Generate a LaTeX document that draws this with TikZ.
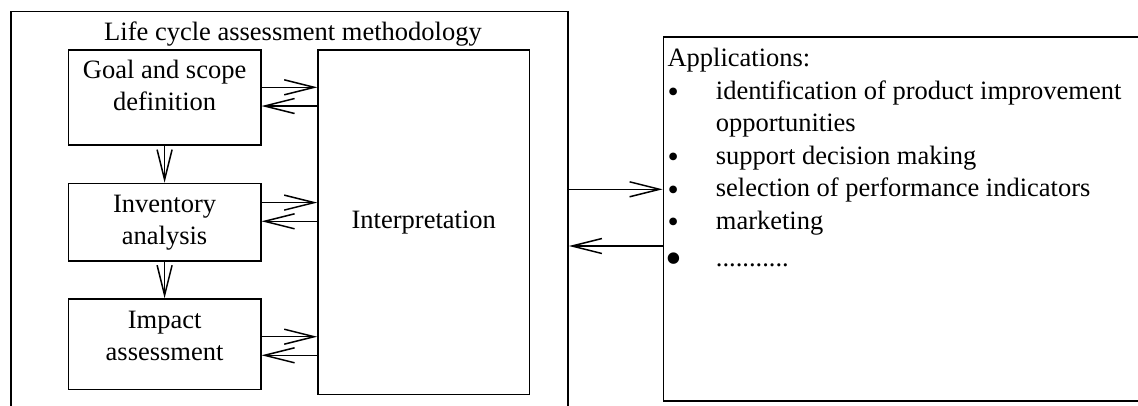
\documentclass[tikz,border=0pt]{standalone}
\usepackage{fontspec}
\setmainfont{Liberation Serif}
\usetikzlibrary{arrows.meta}
\begin{document}
\begin{tikzpicture}[x=1pt,y=-1pt,
  every node/.style={font=\fontsize{26.5}{32}\selectfont},
  lw/.style={line width=1.5pt},
  box/.style={draw, lw, rectangle, inner sep=0pt, anchor=north west},
  boxtext/.style={anchor=north, align=center, inner sep=0pt},
  arr/.style={lw, -{Straight Barb[length=30pt,width=15pt,line width=1.5pt]}},
  txt/.style={anchor=base west, inner sep=0pt},
  bul/.style={anchor=base, inner sep=0pt, font=\fontsize{32}{32}\selectfont}]
\useasboundingbox (0,0) rectangle (1138,405);
% outer frame (bottom lies below the picture)
\node[box, minimum width=557.3pt, minimum height=450pt] (outer) at (10,10.7) {};
\node[anchor=base, inner sep=0pt] (title) at (293,40.5) {Life cycle assessment methodology};
% phase boxes
\node[box, minimum width=192.3pt, minimum height=95.3pt] (goal) at (67.7,49) {};
\node[boxtext] (goaltxt) at ([yshift=-7.1pt]goal.north) {\strut Goal and scope\\definition};
\node[box, minimum width=192.3pt, minimum height=77.3pt] (inv) at (67.7,182.7) {};
\node[boxtext] (invtxt) at ([yshift=-7.1pt]inv.north) {\strut Inventory\\analysis};
\node[box, minimum width=192.3pt, minimum height=90.4pt] (imp) at (67.7,298.3) {};
\node[boxtext] (imptxt) at ([yshift=-7.1pt]imp.north) {\strut Impact\\assessment};
\node[box, minimum width=211.4pt, minimum height=344.7pt] (interp) at (317.3,49) {Interpretation};
% applications box (right side lies beyond the picture)
\node[box, minimum width=600pt, minimum height=364pt] (app) at (662.7,36) {};
\node[txt] (apptitle) at (667.3,66) {Applications:};
\node[bul] (b1) at (673.3,102.6) {•};
\node[txt] (t1) at (715.7,99) {identification of product improvement};
\node[txt] (t1b) at (715.7,131.5) {opportunities};
\node[bul] (b2) at (673.3,167.6) {•};
\node[txt] (t2) at (715.7,164) {support decision making};
\node[bul] (b3) at (673.3,200.1) {•};
\node[txt] (t3) at (715.7,196.5) {selection of performance indicators};
\node[bul] (b4) at (673.3,232.6) {•};
\node[txt] (t4) at (715.7,229) {marketing};
\node[bul, font=\fontsize{48}{48}\selectfont] (b5) at (674.3,274.8) {•};
\node[txt] (t5) at (715.7,266) {...........};
% arrows between phases and interpretation
\coordinate (g1) at ([yshift=-38.3pt]goal.north east);
\coordinate (g2) at ([yshift=-57pt]goal.north east);
\coordinate (i1) at ([yshift=-19.9pt]inv.north east);
\coordinate (i2) at ([yshift=-38.6pt]inv.north east);
\coordinate (m1) at ([yshift=-38.4pt]imp.north east);
\coordinate (m2) at ([yshift=-57pt]imp.north east);
\draw[arr] (g1) -- (g1 -| interp.west);
\draw[arr] (g2 -| interp.west) -- (g2);
\draw[arr] (i1) -- (i1 -| interp.west);
\draw[arr] (i2 -| interp.west) -- (i2);
\draw[arr] (m1) -- (m1 -| interp.west);
\draw[arr] (m2 -| interp.west) -- (m2);
\draw[arr] (goal.south) -- (inv.north);
\draw[arr] (inv.south) -- (imp.north);
% arrows between methodology and applications
\coordinate (o1) at ([yshift=-178.6pt]outer.north east);
\coordinate (o2) at ([yshift=-235.3pt]outer.north east);
\draw[arr] (o1) -- (o1 -| app.west);
\draw[arr] (o2 -| app.west) -- (o2);
\end{tikzpicture}
\end{document}
